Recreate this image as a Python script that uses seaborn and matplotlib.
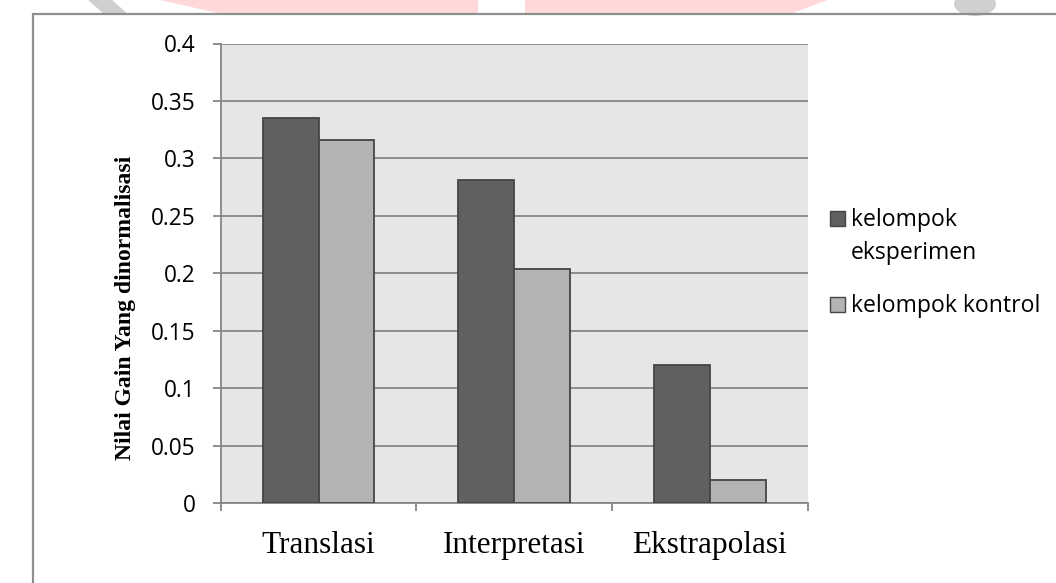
import matplotlib
matplotlib.use("Agg")
import matplotlib.pyplot as plt
from matplotlib.lines import Line2D
from matplotlib.patches import Rectangle, Polygon, Ellipse
import seaborn as sns
import pandas as pd

# Normalised gain per comprehension aspect, experiment vs. control class
categories = ["Translasi", "Interpretasi", "Ekstrapolasi"]
groups = ["kelompok eksperimen", "kelompok kontrol"]
legend_lines = [["kelompok", "eksperimen"], ["kelompok kontrol"]]
gain_eksperimen = [0.335, 0.281, 0.120]
gain_kontrol = [0.316, 0.204, 0.020]
y_ticks = [0, 0.05, 0.1, 0.15, 0.2, 0.25, 0.3, 0.35, 0.4]
y_tick_labels = ["0", "0.05", "0.1", "0.15", "0.2", "0.25", "0.3", "0.35", "0.4"]

df = pd.DataFrame({
    "aspek": categories * 2,
    "kelompok": [groups[0]] * 3 + [groups[1]] * 3,
    "gain": gain_eksperimen + gain_kontrol,
})

sns.set_theme(style="white")
plt.rcParams["font.family"] = ["Open Sans", "DejaVu Sans"]
serif = ["Liberation Serif", "DejaVu Serif"]

W, H = 1056, 583
fig = plt.figure(figsize=(W / 100, H / 100), dpi=100)
fig.patch.set_facecolor("white")

def px(x, y):
    return x / W, 1 - y / H

def fig_poly(points, color):
    pts = [px(x, y) for x, y in points]
    fig.add_artist(Polygon(pts, closed=True, transform=fig.transFigure,
                           facecolor=color, edgecolor="none", zorder=0))

# faint page emblem peeking out above the chart
fig_poly([(160, 0), (478, 0), (478, 14), (222, 14)], "#ffd9d9")
fig_poly([(525, 0), (828, 0), (790, 14), (525, 14)], "#ffd9d9")
fig_poly([(88, 0), (112, 0), (128, 14), (104, 14)], "#cfcfcf")
fig.add_artist(Ellipse(px(975, 4), 42 / W, 24 / H, transform=fig.transFigure,
                       facecolor="#d0d0d0", edgecolor="none", zorder=0))

# chart frame
frame_col = "#8f8f8f"
fig.add_artist(Line2D([px(33, 0)[0], 1.0], [px(0, 14)[1]] * 2, color=frame_col, lw=1.6))
fig.add_artist(Line2D([px(33, 0)[0]] * 2, [px(0, 14)[1], 0.0], color=frame_col, lw=1.6))

left, top = px(220.7, 43.5)
right, bottom = px(807.7, 503)
ax = fig.add_axes([left, bottom, right - left, top - bottom])
ax.set_facecolor("#e6e6e6")

grid_col = "#868686"
edge_col = "#454545"
palette = {groups[0]: "#606060", groups[1]: "#b3b3b3"}
sns.barplot(data=df, x="aspek", y="gain", hue="kelompok", order=categories,
            hue_order=groups, palette=palette, width=0.571, gap=0,
            edgecolor=edge_col, linewidth=1.3, saturation=1, legend=False,
            ax=ax, zorder=3)

ax.set_ylim(0, 0.4)
ax.set_xlim(-0.5, 2.5)
ax.set_yticks(y_ticks)
ax.set_yticklabels(y_tick_labels, fontsize=16.3, color="black")
ax.yaxis.grid(True, color=grid_col, lw=1.3)
ax.set_axisbelow(True)

# category boundaries carry the tick marks, names sit between them
ax.set_xticks([-0.5, 0.5, 1.5, 2.5])
ax.set_xticklabels([])
ax.set_xticks([0, 1, 2], minor=True)
ax.set_xticklabels(categories, minor=True, fontsize=22.5, family=serif,
                   color="black")
ax.tick_params(axis="x", which="major", direction="out", length=6, width=1.3,
               color=grid_col, bottom=True)
ax.tick_params(axis="x", which="minor", length=0, pad=20, bottom=True)
ax.tick_params(axis="y", direction="out", length=6, width=1.3, color=grid_col,
               left=True, pad=12)

for side in ["top", "right"]:
    ax.spines[side].set_visible(False)
for side in ["left", "bottom"]:
    ax.spines[side].set_color(grid_col)
    ax.spines[side].set_linewidth(1.3)

ax.set_xlabel("")
ax.set_ylabel("Nilai Gain Yang dinormalisasi", fontsize=17, fontweight="bold",
              family=serif, color="black")
ax.yaxis.label.set_verticalalignment("center")
ax.yaxis.set_label_coords((126 - 220.7) / 587, (503 - 308) / 459.5)

# legend: swatch beside the first line of each entry
baselines = [[226, 259], [312]]
sq = 15
for g, lines, bls in zip(groups, legend_lines, baselines):
    x0, y0 = px(830, bls[0])
    fig.add_artist(Rectangle((x0, y0), sq / W, sq / H, transform=fig.transFigure,
                             facecolor=palette[g], edgecolor=edge_col, lw=1.0))
    for line, bl in zip(lines, bls):
        tx, ty = px(851, bl)
        fig.text(tx, ty, line, fontsize=16.6, va="baseline", ha="left",
                 color="black")

fig.savefig("out.png", dpi=100)
